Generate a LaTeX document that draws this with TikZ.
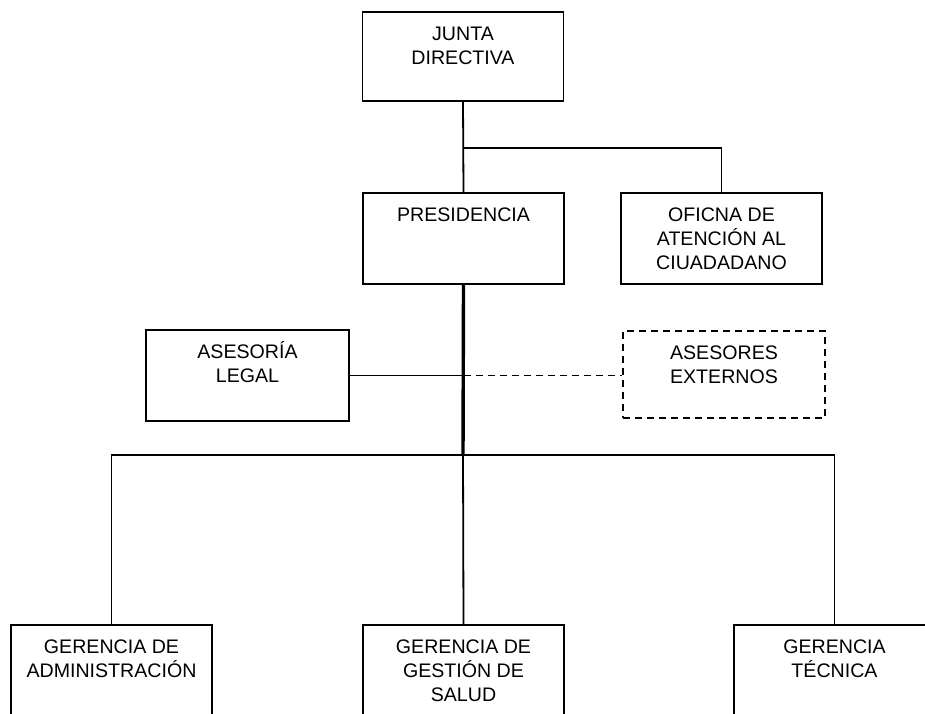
\documentclass[tikz,border=0pt]{standalone}
\usepackage{fontspec}
\setmainfont{Liberation Sans}
\usepackage{tikz}
\newcommand{\unittext}[3]{\parbox[c][#2pt][t]{#1pt}{\centering\rule{0pt}{28pt}#3}}

\begin{document}
\begin{tikzpicture}[x=1pt, y=-1pt,
		unit/.style={draw, line width=1.9pt, inner sep=0pt, font=\fontsize{19.6pt}{24pt}\selectfont},
		link/.style={line width=1.8pt},
		trunk/.style={line width=3.4pt},
		loose/.style={line width=1.8pt, dash pattern=on 7pt off 5pt}]
			%%%%% START %%%%%
			
			\useasboundingbox (0, 0) rectangle (925, 713);
			\clip (0, 0) rectangle (925, 713);
			
			\node[unit] (junta) at (463, 56.5) {\unittext{201}{89}{JUNTA\\DIRECTIVA}};
			
			\node[unit] (pres) at (463.5, 238.5) {\unittext{201}{91}{PRESIDENCIA}};
			\node[unit] (ofic) at (721.5, 238.5) {\unittext{201}{91}{OFICNA DE\\ATENCIÓN AL\\CIUADADANO}};
			
			\node[unit] (legal) at (247.5, 375.5) {\unittext{203}{91}{ASESORÍA\\LEGAL}};
			\node[unit, dash pattern=on 7pt off 5pt] (externos) at (724, 374.5) {\unittext{202}{87}{ASESORES\\EXTERNOS}};
			
			\node[unit] (gadm) at (111.5, 670.5) {\unittext{201}{91}{GERENCIA DE\\ADMINISTRACIÓN}};
			\node[unit] (gsal) at (463.5, 670.5) {\unittext{201}{91}{GERENCIA DE\\GESTIÓN DE\\SALUD}};
			\node[unit] (gtec) at (834.5, 670.5) {\unittext{201}{91}{GERENCIA\\TÉCNICA}};
			
			\coordinate (split) at (463, 148);
			\coordinate (bus) at (463, 455);
			
			\draw[link] (junta.south) -- (pres.north);
			\draw[link] (split) -| (ofic.north);
			
			\draw[trunk] (pres.south) -- (bus);
			
			\draw[link] (legal.east) -- (pres.south |- legal.east) coordinate (mid);
			\draw[loose] (mid) -- (externos.west |- mid);
			
			\draw[link] (gadm.north) |- (bus) -| (gtec.north);
			\draw[link] (bus) -- (gsal.north);
			
			%%%%% END %%%%%
		\end{tikzpicture}
\end{document}
